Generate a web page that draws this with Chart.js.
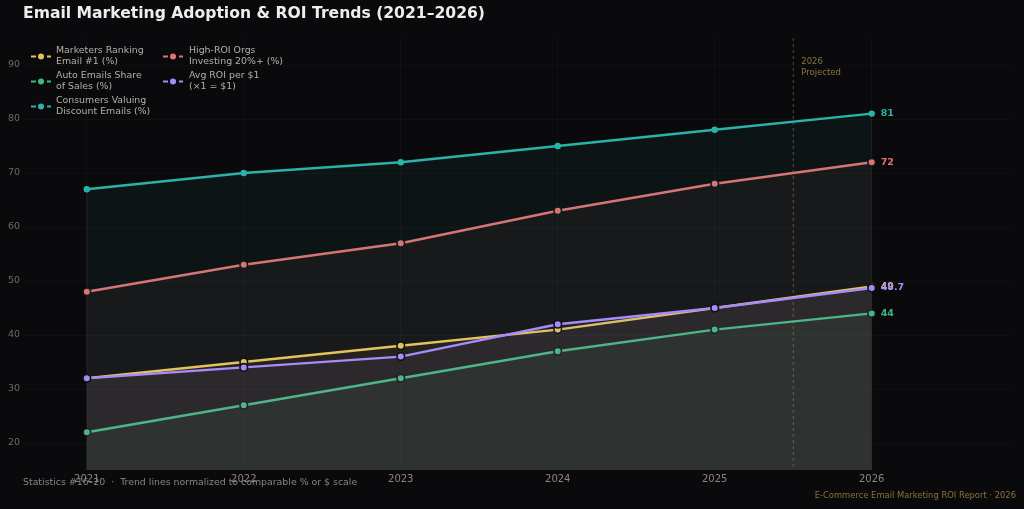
<!DOCTYPE html>
<html>
<head>
<meta charset="utf-8">
<script src="https://cdn.jsdelivr.net/npm/chart.js@4/dist/chart.umd.min.js"></script>
<style>
  body { margin: 0; background: #0a0a0c; }
  #wrap { width: 1024px; height: 509px; }
</style>
</head>
<body>
<div id="wrap"><canvas id="c" width="1024" height="509"></canvas></div>
<script>
const years = [2021, 2022, 2023, 2024, 2025, 2026];
const marketersEmail = [32, 35, 38, 41, 45, 49];
const autoEmails = [22, 27, 32, 37, 41, 44];
const consumersDiscount = [67, 70, 72, 75, 78, 81];
const highRoiOrgs = [48, 53, 57, 63, 68, 72];
const avgRoi = [32, 34, 36, 42, 45, 48.7];
const yTicks = [20, 30, 40, 50, 60, 70, 80, 90];
const projectedAt = 2025.5;

const FONT = "'DejaVu Sans', sans-serif";

function series(label, legend, values, color, opts) {
  return Object.assign({
    label: label,
    legendLines: legend,
    data: years.map((y, i) => ({ x: y, y: values[i] })),
    borderColor: color,
    backgroundColor: color + "10",
    fill: "start",
    borderWidth: 2.4,
    tension: 0,
    pointRadius: 3.8,
    pointBackgroundColor: color,
    pointBorderColor: "#111",
    pointBorderWidth: 1.6,
    endLabel: String(values[values.length - 1]),
  }, opts || {});
}

const datasets = [
  series("Marketers Ranking Email #1 (%)", ["Marketers Ranking", "Email #1 (%)"], marketersEmail, "#e3c35e"),
  series("Auto Emails Share of Sales (%)", ["Auto Emails Share", "of Sales (%)"], autoEmails, "#3fb883"),
  series("Consumers Valuing Discount Emails (%)", ["Consumers Valuing", "Discount Emails (%)"], consumersDiscount, "#2bb3a8", { pointRadius: 3.2, pointBorderWidth: 0 }),
  series("High-ROI Orgs Investing 20%+ (%)", ["High-ROI Orgs", "Investing 20%+ (%)"], highRoiOrgs, "#e07272"),
  series("Avg ROI per $1 (×1 = $1)", ["Avg ROI per $1", "(×1 = $1)"], avgRoi, "#a78bfa"),
];
// purple drawn above yellow
datasets[4].order = -1;

const extras = {
  id: "extras",
  beforeDatasetsDraw(chart) {
    const { ctx, chartArea, scales } = chart;
    const x = scales.x.getPixelForValue(projectedAt);
    ctx.save();
    // faint edges of the filled areas
    const topVals = [0, years.length - 1].map((i) => Math.max(...chart.data.datasets.map((d) => d.data[i].y)));
    [0, years.length - 1].forEach((i, k) => {
      const ex = scales.x.getPixelForValue(years[i]);
      ctx.strokeStyle = "rgba(200,200,200,0.09)";
      ctx.lineWidth = 1;
      ctx.beginPath();
      ctx.moveTo(ex, scales.y.getPixelForValue(topVals[k]));
      ctx.lineTo(ex, chartArea.bottom);
      ctx.stroke();
    });
    ctx.strokeStyle = "#5e4e26";
    ctx.lineWidth = 1;
    ctx.setLineDash([3, 3]);
    ctx.beginPath();
    ctx.moveTo(x, chartArea.top);
    ctx.lineTo(x, chartArea.bottom);
    ctx.stroke();
    ctx.setLineDash([]);
    ctx.fillStyle = "#8a7540";
    ctx.font = "8.5px " + FONT;
    ctx.textBaseline = "middle";
    ctx.fillText("2026", x + 8, 62);
    ctx.fillText("Projected", x + 8, 72.5);
    ctx.restore();
  },
  afterDraw(chart) {
    const { ctx, scales } = chart;
    ctx.save();
    // title
    ctx.fillStyle = "#eeeeee";
    ctx.font = "bold 15.6px " + FONT;
    ctx.textBaseline = "middle";
    ctx.fillText("Email Marketing Adoption & ROI Trends (2021–2026)", 23, 14);

    // end labels
    ctx.font = "bold 9.5px " + FONT;
    chart.data.datasets.forEach((ds) => {
      const last = ds.data[ds.data.length - 1];
      ctx.fillStyle = ds.borderColor;
      ctx.fillText(ds.endLabel, scales.x.getPixelForValue(last.x) + 9, scales.y.getPixelForValue(last.y));
    });

    // legend
    ctx.font = "9.4px " + FONT;
    const cols = [{ ix: 31, tx: 56 }, { ix: 163, tx: 189 }];
    const rowsY = [56.5, 81.5, 106.5];
    chart.data.datasets.forEach((ds, i) => {
      const c = cols[i < 3 ? 0 : 1];
      const cy = rowsY[i < 3 ? i : i - 3];
      ctx.strokeStyle = ds.borderColor;
      ctx.lineWidth = 2;
      ctx.setLineDash([5, 3]);
      ctx.beginPath();
      ctx.moveTo(c.ix, cy);
      ctx.lineTo(c.ix + 20, cy);
      ctx.stroke();
      ctx.setLineDash([]);
      ctx.fillStyle = ds.borderColor;
      ctx.beginPath();
      ctx.arc(c.ix + 10, cy, 3, 0, Math.PI * 2);
      ctx.fill();
      ctx.fillStyle = "#b5afa6";
      ctx.fillText(ds.legendLines[0], c.tx, cy - 6);
      ctx.fillText(ds.legendLines[1], c.tx, cy + 5);
    });

    // footers
    ctx.font = "9.4px " + FONT;
    ctx.fillStyle = "#8a8580";
    ctx.fillText("Statistics #16–20  ·  Trend lines normalized to comparable % or $ scale", 23, 483);
    ctx.font = "8.4px " + FONT;
    ctx.fillStyle = "#8b7338";
    ctx.textAlign = "right";
    ctx.fillText("E-Commerce Email Marketing ROI Report · 2026", 1016, 496);
    ctx.restore();
  },
};

new Chart(document.getElementById("c"), {
  type: "line",
  data: { datasets: datasets },
  options: {
    responsive: false,
    animation: false,
    layout: { padding: { left: 0, right: 11, top: 38, bottom: 0 } },
    plugins: { legend: { display: false }, tooltip: { enabled: false }, title: { display: false } },
    scales: {
      x: {
        type: "linear",
        min: 2020.6,
        max: 2026.9,
        afterFit: (s) => { s.height = 39; },
        afterBuildTicks: (s) => { s.ticks = years.map((v) => ({ value: v })); },
        grid: { color: "rgba(255,255,255,0.028)", drawTicks: false },
        border: { display: false },
        ticks: { color: "#8a8580", font: { family: FONT, size: 10 }, padding: 3, callback: (v) => String(v) },
      },
      y: {
        min: 15,
        max: 95,
        afterFit: (s) => { s.width = 24; },
        afterBuildTicks: (s) => { s.ticks = yTicks.map((v) => ({ value: v })); },
        grid: { color: "rgba(255,255,255,0.028)", drawTicks: false },
        border: { display: false },
        ticks: { color: "#6e6a66", font: { family: FONT, size: 9.5 }, padding: 4 },
      },
    },
  },
  plugins: [extras],
});
</script>
</body>
</html>
